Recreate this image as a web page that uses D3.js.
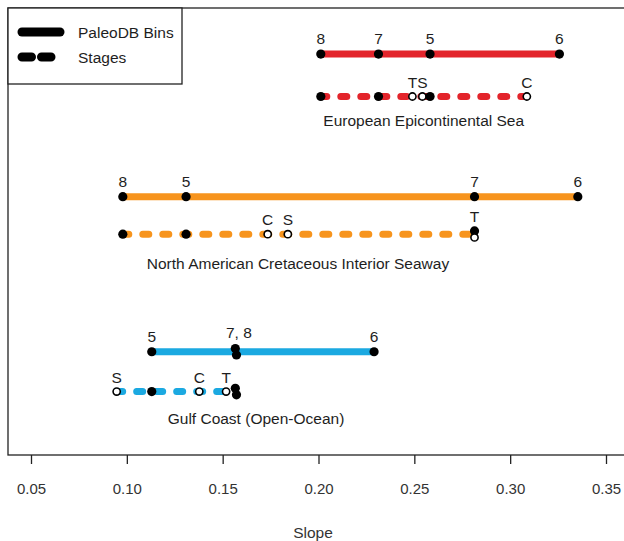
<!DOCTYPE html>
<html>
<head>
<meta charset="utf-8">
<script src="https://cdn.jsdelivr.net/npm/d3@7"></script>
<style>
  body { margin: 0; background: #fff; }
  svg { display: block; font-family: "Liberation Sans", Arial, sans-serif; }
</style>
</head>
<body>
<svg id="chart" width="624" height="541"></svg>
<script>
// values
const regions = ['European Epicontinental Sea', 'North American Cretaceous Interior Seaway', 'Gulf Coast (Open-Ocean)']
const regionColours = ['#e3242b', '#f7941d', '#1ba9e1']
const regionLabelSlope = [0.2549, 0.1893, 0.1674]
const regionLabelLevels = [0.749, 0.4295, 0.0828]

const binNames = ['5', '6', '7', '8']
const binSlopes = [
  [0.2582, 0.3257, 0.2313, 0.2012],
  [0.1309, 0.3353, 0.2814, 0.0979],
  [0.1130, 0.2290, 0.1566, 0.1572]
]

const stageNames = ['C', 'S', 'T']
const stageSlopes = [
  [0.3087, 0.2542, 0.2490],
  [0.1735, 0.1840, 0.2814],
  [0.1378, 0.0947, 0.1518]
]

// vertical level of each row (solid bins, dashed stages)
const binLevels = [0.897, 0.578, 0.231]
const stageLevels = [0.802, 0.494, 0.142]

const slopeTicks = [0.05, 0.10, 0.15, 0.20, 0.25, 0.30, 0.35]

const svg = d3.select('#chart')
const boxLeft = 8, boxTop = 8, boxRight = 640, boxBottom = 455
const fontSize = 15.5

const x = d3.scaleLinear().domain([0.05, 0.35]).range([31, 606])
const y = d3.scaleLinear().domain([0, 1]).range([boxBottom, boxTop])

// group points that sit on the same slope and stack them vertically
function stack (pts) {
  const sorted = pts.slice().sort((a, b) => a.v - b.v)
  const groups = []
  sorted.forEach(p => {
    const g = groups[groups.length - 1]
    if (g && Math.abs(g[0].v - p.v) < 0.003) g.push(p)
    else groups.push([p])
  })
  groups.forEach(g => {
    g.sort((a, b) => (b.filled - a.filled))
    g.forEach((p, i) => { p.dy = (i - (g.length - 1) / 2) * 6.5 })
  })
  return groups
}

const plot = svg.append('g')

regions.forEach((name, r) => {
  const col = regionColours[r]

  // PaleoDB bins row
  const by = y(binLevels[r])
  const bins = binNames.map((n, i) => ({ v: binSlopes[r][i], name: n, filled: 1 }))
  const binGroups = stack(bins)
  plot.append('line')
    .attr('x1', x(d3.min(bins, d => d.v))).attr('x2', x(d3.max(bins, d => d.v)))
    .attr('y1', by).attr('y2', by)
    .attr('stroke', col).attr('stroke-width', 7)

  // stages row (bins 5, 7, 8 plus the stage estimates)
  const sy = y(stageLevels[r])
  const stagePts = bins.filter(d => d.name !== '6').map(d => ({ v: d.v, name: d.name, filled: 1 }))
    .concat(stageNames.map((n, i) => ({ v: stageSlopes[r][i], name: n, filled: 0 })))
  const stageGroups = stack(stagePts)
  plot.append('line')
    .attr('x1', x(d3.min(stagePts, d => d.v))).attr('x2', x(d3.max(stagePts, d => d.v)))
    .attr('y1', sy).attr('y2', sy)
    .attr('stroke', col).attr('stroke-width', 7)
    .attr('stroke-linecap', 'round')
    .attr('stroke-dasharray', '6,14')

  const rows = [[binGroups, by, true], [stageGroups, sy, false]]
  rows.forEach(([groups, ry, solid]) => {
    const pts = groups.flat()
    plot.selectAll(null)
      .data(pts)
      .enter().append('circle')
        .attr('cx', d => x(d.v))
        .attr('cy', d => ry + d.dy)
        .attr('r', d => d.filled ? 4.6 : 3.6)
        .attr('fill', d => d.filled ? '#000' : '#fff')
        .attr('stroke', '#000')
        .attr('stroke-width', d => d.filled ? 0 : 1.6)

    const labelled = groups.map(g => {
      const named = g.filter(p => solid ? p.filled : !p.filled)
      return named.length ? {
        v: d3.mean(g, p => p.v),
        text: named.map(p => p.name).sort().join(', '),
        top: d3.min(g, p => p.dy)
      } : null
    }).filter(Boolean)

    plot.selectAll(null)
      .data(labelled)
      .enter().append('text')
        .attr('x', d => x(d.v) + (d.text.length > 1 ? 3 : 0))
        .attr('y', d => ry + d.top - (solid ? 10 : 9))
        .attr('text-anchor', 'middle')
        .attr('font-size', fontSize)
        .attr('fill', '#1e1e1e')
        .text(d => d.text)
  })

  plot.append('text')
    .attr('x', x(regionLabelSlope[r]))
    .attr('y', y(regionLabelLevels[r]))
    .attr('dy', '0.36em')
    .attr('text-anchor', 'middle')
    .attr('font-size', fontSize)
    .attr('fill', '#1e1e1e')
    .text(name)
})

// frame
svg.append('rect')
  .attr('x', boxLeft).attr('y', boxTop)
  .attr('width', boxRight - boxLeft).attr('height', boxBottom - boxTop)
  .attr('fill', 'none').attr('stroke', '#222').attr('stroke-width', 1.3)

// x axis
const axis = svg.append('g')
  .attr('transform', `translate(0,${boxBottom})`)
  .call(d3.axisBottom(x).tickValues(slopeTicks).tickFormat(d3.format('.2f')).tickSize(9).tickPadding(19))
axis.select('.domain').remove()
axis.selectAll('.tick line').attr('stroke', '#222').attr('stroke-width', 1.3)
axis.selectAll('.tick text')
  .attr('font-size', 15)
  .attr('font-family', '"Liberation Sans", Arial, sans-serif')
  .attr('fill', '#333')

svg.append('text')
  .attr('x', 313).attr('y', 532)
  .attr('dy', '0.36em')
  .attr('text-anchor', 'middle')
  .attr('font-size', fontSize)
  .attr('fill', '#333')
  .text('Slope')

// legend
const legend = svg.append('g')
legend.append('rect')
  .attr('x', boxLeft).attr('y', boxTop)
  .attr('width', 174).attr('height', 76)
  .attr('fill', '#fff').attr('stroke', '#222').attr('stroke-width', 1.3)
legend.append('line')
  .attr('x1', 22).attr('x2', 60).attr('y1', 32).attr('y2', 32)
  .attr('stroke', '#000').attr('stroke-width', 9).attr('stroke-linecap', 'round')
legend.append('line')
  .attr('x1', 22).attr('x2', 60).attr('y1', 57).attr('y2', 57)
  .attr('stroke', '#000').attr('stroke-width', 9).attr('stroke-linecap', 'round')
  .attr('stroke-dasharray', '9.5,10')
legend.append('text')
  .attr('x', 78).attr('y', 32).attr('dy', '0.36em').attr('font-size', fontSize).attr('fill', '#1e1e1e')
  .text('PaleoDB Bins')
legend.append('text')
  .attr('x', 78).attr('y', 57).attr('dy', '0.36em').attr('font-size', fontSize).attr('fill', '#1e1e1e')
  .text('Stages')
</script>
</body>
</html>
